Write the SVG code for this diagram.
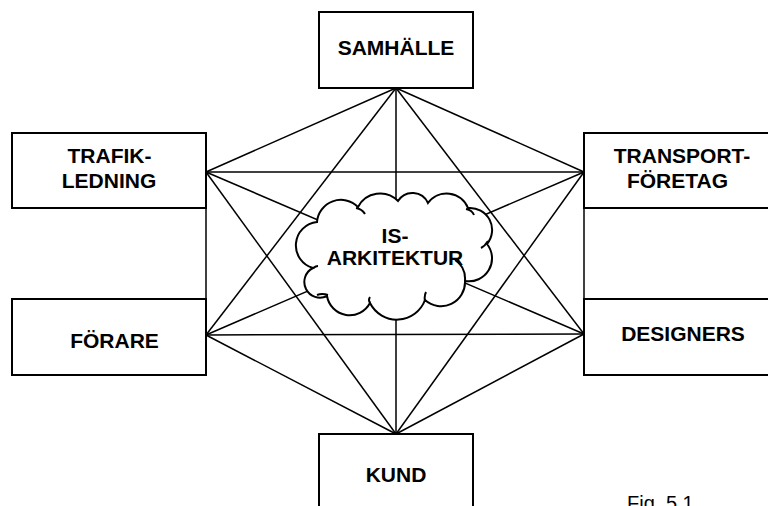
<svg xmlns="http://www.w3.org/2000/svg" width="768" height="506" viewBox="0 0 768 506">
<style>
.box{fill:#fff;stroke:#000;stroke-width:2}
.ln{stroke:#000;stroke-width:1.5;fill:none}
.t{font-family:"Liberation Sans",Arial,sans-serif;font-weight:bold;font-size:21px;text-anchor:middle;fill:#000}
.cl{fill:#fff;stroke:#000;stroke-width:2}
.ci{fill:none;stroke:#000;stroke-width:2}
</style>
<rect width="768" height="506" fill="#fff"/>
<g id="connectors" class="ln">
<line x1="396" y1="88" x2="206" y2="172"/>
<line x1="396" y1="88" x2="584" y2="172"/>
<line x1="396" y1="88" x2="206" y2="335"/>
<line x1="396" y1="88" x2="584" y2="334"/>
<line x1="396" y1="88" x2="396" y2="434"/>
<line x1="206" y1="172" x2="584" y2="172"/>
<line x1="206" y1="172" x2="206" y2="335"/>
<line x1="206" y1="172" x2="584" y2="334"/>
<line x1="206" y1="172" x2="396" y2="434"/>
<line x1="584" y1="172" x2="206" y2="335"/>
<line x1="584" y1="172" x2="584" y2="334"/>
<line x1="584" y1="172" x2="396" y2="434"/>
<line x1="206" y1="335" x2="584" y2="334"/>
<line x1="206" y1="335" x2="396" y2="434"/>
<line x1="584" y1="334" x2="396" y2="434"/>
</g>
<g id="is-arkitektur">
<path class="cl" d="M317,222 A24,24 0 0 1 358,207 A25,25 0 0 1 398,201 A17,17 0 0 1 428,203 A23,23 0 0 1 468,208 A22,22 0 0 1 487,244 A23,23 0 0 1 465,281 A24,24 0 0 1 425,300 A30,30 0 0 1 370,303 A23,23 0 0 1 327,296 A15,15 0 1 1 313,268 A23.5,23.5 0 0 1 317,222 Z"/>
<path class="ci" d="M356,208 Q362,209 365,214 M466,209 Q472,210 474,215 M488,241 Q485,246 481,248 M455,260 Q466,267 465,281 M425,301 Q424,296 426,292 M370,303 Q368,300 370,297 M328,295 Q322,293 317,295 M313,268 Q316,266 318,266"/>
<text class="t" x="395" y="243">IS-</text>
<text class="t" x="395" y="265">ARKITEKTUR</text>
</g>
<g id="samhalle">
<rect class="box" x="319" y="12" width="154" height="76"/>
<text class="t" x="396" y="55">SAMHÄLLE</text>
</g>
<g id="trafikledning">
<rect class="box" x="12" y="133" width="194" height="75"/>
<text class="t" x="109.5" y="163">TRAFIK-</text>
<text class="t" x="109" y="188">LEDNING</text>
</g>
<g id="forare">
<rect class="box" x="12" y="299" width="194" height="76"/>
<text class="t" x="114.5" y="348">FÖRARE</text>
</g>
<g id="transportforetag">
<rect class="box" x="584" y="133" width="200" height="75"/>
<text class="t" x="682" y="163">TRANSPORT-</text>
<text class="t" x="677.5" y="188">FÖRETAG</text>
</g>
<g id="designers">
<rect class="box" x="584" y="299" width="200" height="76"/>
<text class="t" x="683" y="341">DESIGNERS</text>
</g>
<g id="kund">
<rect class="box" x="319" y="434" width="154" height="90"/>
<text class="t" x="396" y="482">KUND</text>
</g>
<text x="627" y="510" font-family="'Liberation Sans',Arial,sans-serif" font-size="20" fill="#000">Fig. 5.1</text>
</svg>
